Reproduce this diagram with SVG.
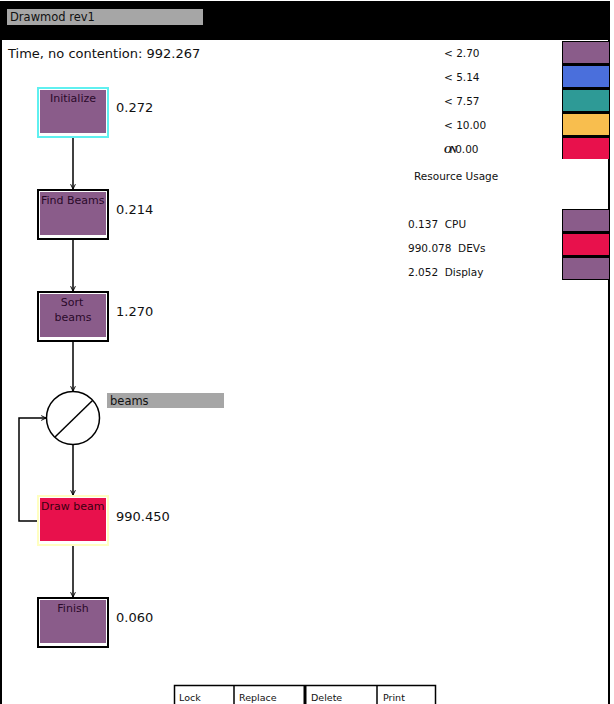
<svg xmlns="http://www.w3.org/2000/svg" width="614" height="704" viewBox="0 0 614 704">
<style>
text{font-family:"DejaVu Sans","Liberation Sans",sans-serif;fill:#111}
.lbl{font-size:11px;fill:#2a0a2a}
.val{font-size:13px}
.leg{font-size:10.5px}
.btn{font-size:9.5px}
.outer{fill:#fff;stroke:#000;stroke-width:2}
.pur{fill:#8A5C8A}
.edge{fill:none;stroke:#000;stroke-width:1.5;marker-end:url(#arr)}
</style>
<defs>
<marker id="arr" viewBox="0 0 10 10" refX="9" refY="5" markerWidth="6" markerHeight="6" orient="auto" markerUnits="userSpaceOnUse">
<path d="M1,1 L9,5 L1,9" fill="none" stroke="#000" stroke-width="1.6"/>
</marker>
</defs>
<rect x="0" y="0" width="614" height="704" fill="#fff"/>
<g id="window">
<rect x="0" y="1" width="610" height="39" fill="#000"/>
<rect x="7" y="9" width="196" height="16" fill="#a6a6a6"/>
<text x="10" y="21" style="font-size:11.5px">Drawmod rev1</text>
<line x1="1" y1="40" x2="1" y2="704" stroke="#000" stroke-width="2"/>
<line x1="609" y1="40" x2="609" y2="704" stroke="#000" stroke-width="2"/>
<text x="8" y="58" style="font-size:13px">Time, no contention: 992.267</text>
</g>
<g id="legend">
<rect x="562" y="41" width="47" height="118" fill="#000"/>
<rect x="563" y="42" width="46" height="21" fill="#8A5C8A"/>
<rect x="563" y="66" width="46" height="21" fill="#4A6FDC"/>
<rect x="563" y="90" width="46" height="21" fill="#2E9A96"/>
<rect x="563" y="114" width="46" height="21" fill="#F8BE4E"/>
<rect x="563" y="138" width="46" height="21" fill="#E8114C"/>
<text class="leg" x="444" y="57">&lt; 2.70</text>
<text class="leg" x="444" y="81">&lt; 5.14</text>
<text class="leg" x="444" y="105">&lt; 7.57</text>
<text class="leg" x="444" y="129">&lt; 10.00</text>
<text class="leg" x="444" y="153"><tspan style="font-family:'Liberation Serif',serif;font-weight:bold;font-style:italic;letter-spacing:-2px">ON</tspan>0.00</text>
<text class="leg" x="414" y="180">Resource Usage</text>
</g>
<g id="resources">
<rect x="562" y="209" width="47" height="71" fill="#000"/>
<rect x="563" y="210" width="46" height="21" fill="#8A5C8A"/>
<rect x="563" y="234" width="46" height="21" fill="#E8114C"/>
<rect x="563" y="258" width="46" height="21" fill="#8A5C8A"/>
<text class="leg" x="408" y="228" xml:space="preserve">0.137  CPU</text>
<text class="leg" x="408" y="252" xml:space="preserve">990.078  DEVs</text>
<text class="leg" x="408" y="276" xml:space="preserve">2.052  Display</text>
</g>
<g id="connectors">
<line class="edge" x1="73" y1="137" x2="73" y2="189"/>
<line class="edge" x1="73" y1="239" x2="73" y2="291"/>
<line class="edge" x1="73" y1="341" x2="73" y2="391"/>
<line class="edge" x1="73" y1="445" x2="73" y2="495"/>
<line class="edge" x1="73" y1="545" x2="73" y2="597"/>
<polyline class="edge" points="37,521 19,521 19,418 46,418"/>
</g>
<g id="initialize">
<rect x="38" y="88" width="70" height="49" fill="#fff" stroke="#5FF0F0" stroke-width="2"/>
<rect x="40" y="90" width="66" height="43" class="pur"/>
<text class="lbl" x="73" y="102" text-anchor="middle">Initialize</text>
<text class="val" x="116" y="112">0.272</text>
</g>
<g id="find-beams">
<rect x="38" y="190" width="70" height="49" class="outer"/>
<rect x="40" y="192" width="66" height="43" class="pur"/>
<text class="lbl" x="41" y="204">Find Beams</text>
<text class="val" x="116" y="214">0.214</text>
</g>
<g id="sort-beams">
<rect x="38" y="292" width="70" height="49" class="outer"/>
<rect x="40" y="294" width="66" height="43" class="pur"/>
<text class="lbl" x="72" y="306" text-anchor="middle">Sort</text>
<text class="lbl" x="73" y="321" text-anchor="middle">beams</text>
<text class="val" x="116" y="316">1.270</text>
</g>
<g id="loop-beams">
<circle cx="73" cy="418" r="26.5" fill="#fff" stroke="#000" stroke-width="1.5"/>
<line x1="55" y1="437" x2="92.5" y2="400.5" stroke="#000" stroke-width="1.5"/>
<rect x="107" y="393" width="117" height="15" fill="#a6a6a6"/>
<text x="110" y="405" style="font-size:11.5px">beams</text>
</g>
<g id="draw-beam">
<rect x="38" y="496" width="70" height="49" fill="#fff" stroke="#FFFFC0" stroke-width="2"/>
<rect x="40" y="498" width="66" height="43" fill="#E8114C"/>
<text class="lbl" x="41" y="510" style="fill:#3a0010">Draw beam</text>
<text class="val" x="116" y="521">990.450</text>
</g>
<g id="finish">
<rect x="38" y="598" width="70" height="49" class="outer"/>
<rect x="40" y="600" width="66" height="43" class="pur"/>
<text class="lbl" x="73" y="612" text-anchor="middle">Finish</text>
<text class="val" x="116" y="622">0.060</text>
</g>
<g id="buttons">
<rect x="174.5" y="685.5" width="261" height="22" fill="#fff" stroke="#000" stroke-width="1.5"/>
<line x1="234" y1="685" x2="234" y2="704" stroke="#000" stroke-width="1.5"/>
<line x1="305" y1="685" x2="305" y2="704" stroke="#000" stroke-width="3"/>
<line x1="377" y1="685" x2="377" y2="704" stroke="#000" stroke-width="1.5"/>
<text class="btn" x="179" y="701">Lock</text>
<text class="btn" x="239" y="701">Replace</text>
<text class="btn" x="311" y="701">Delete</text>
<text class="btn" x="383" y="701">Print</text>
</g>
</svg>
